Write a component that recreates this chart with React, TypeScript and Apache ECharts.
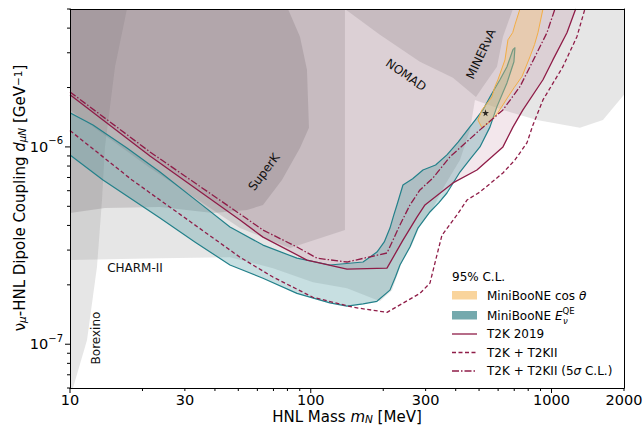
import React, { useEffect, useRef } from "react";
import * as echarts from "echarts";

const FONT = "DejaVu Sans";
const X_MIN = 10;
const X_MAX = 2000;
const Y_MIN = 6e-8;
const Y_MAX = 5e-6;

// ticks
const xMajorTicks = [10, 100, 1000];
const xMinorTicks = [20, 30, 40, 50, 60, 70, 80, 90, 200, 300, 400, 500, 600, 700, 800, 900, 2000];
const xTickLabels = [10, 30, 100, 300, 1000, 2000];
const yMajorTicks = [1e-7, 1e-6];
const yMinorTicks = [6e-8, 7e-8, 8e-8, 9e-8, 2e-7, 3e-7, 4e-7, 5e-7, 6e-7, 7e-7, 8e-7, 9e-7, 2e-6, 3e-6, 4e-6, 5e-6];
const yTickLabels = [1e-7, 1e-6];
const yTickExponents = ["−7", "−6"];

// exclusion regions: [mass MeV, coupling GeV^-1]
const charm2Region: [number, number][] = [
  [10, 2.67e-7], [23.65, 2.73e-7], [46.18, 2.76e-7], [69.66, 2.43e-7], [102.1, 2.06e-7],
  [141.4, 1.92e-7], [193.8, 1.65e-7], [217.4, 1.88e-7], [239.2, 2.61e-7], [263.2, 3.18e-7],
  [284.1, 3.97e-7], [318.6, 4.79e-7], [360.9, 6.41e-7], [416.6, 8.59e-7], [458.5, 1.22e-6],
  [480.9, 1.73e-6], [628.4, 1.54e-6], [869.8, 1.37e-6], [1312, 1.25e-6], [1635, 1.37e-6],
  [2000, 1.84e-6], [2000, 5e-6], [10, 5e-6],
];
const borexinoRegion: [number, number][] = [
  [10, 6e-8], [10.29, 6e-8], [11.77, 1.05e-7], [12.94, 2.46e-7], [13.58, 5.38e-7],
  [13.97, 1e-6], [15.38, 2.55e-6], [17.24, 5e-6], [10, 5e-6],
];
const superKRegion: [number, number][] = [
  [10, 5e-6], [80.42, 5e-6], [90.19, 3.62e-6], [96.43, 2.46e-6], [98.29, 1.25e-6],
  [90.19, 9.88e-7], [75.9, 6.8e-7], [63.32, 5.08e-7], [54.34, 4.79e-7], [39.26, 4.62e-7],
  [23.65, 4.96e-7], [13.97, 4.9e-7], [10, 4.62e-7],
];
const lowMassRegion: [number, number][] = [
  [10, 5e-6], [138.7, 5e-6], [138.7, 3.79e-7], [82, 3.07e-7], [50.82, 3.88e-7],
  [21.49, 7.82e-7], [10, 1.54e-6],
];
const nomadMinervaRegion: [number, number][] = [
  [138.7, 5e-6], [691.3, 5e-6], [628.4, 3.62e-6], [593.3, 2.55e-6], [518.9, 2.02e-6],
  [485.5, 1.79e-6], [389.6, 2.24e-6], [284.1, 2.7e-6], [193.8, 3.7e-6],
];

// T2K sensitivity curves
const t2k2019: [number, number][] = [
  [10, 1.84e-6], [21.49, 9.0e-7], [50.82, 4.26e-7], [63.32, 3.49e-7], [96.43, 2.67e-7],
  [141.4, 2.4e-7], [207.3, 2.43e-7], [241.5, 3.37e-7], [276.1, 4.41e-7], [298.1, 5.08e-7],
  [389.6, 6.57e-7], [490.0, 7.64e-7], [628.4, 1e-6], [691.3, 1.26e-6], [760.7, 1.54e-6],
  [921.4, 2.19e-6], [1013, 2.76e-6], [1159, 3.79e-6], [1260, 5e-6],
];
const t2kT2kII: [number, number][] = [
  [10, 1.21e-6], [18.09, 6.8e-7], [50.82, 2.76e-7], [69.66, 2.19e-7], [102.1, 1.73e-7],
  [149.7, 1.54e-7], [207.3, 1.45e-7], [284.1, 1.81e-7], [312.6, 2.04e-7], [334.2, 2.83e-7],
  [350.7, 3.57e-7], [404.8, 4.52e-7], [445.5, 5.38e-7], [504.3, 5.91e-7], [628.4, 7.38e-7],
  [704.7, 8.59e-7], [790.3, 1.048e-6], [837.1, 1.29e-6], [921.4, 1.73e-6], [1115, 2.55e-6],
  [1275, 3.62e-6], [1376, 5e-6],
];
const t2kT2kII5s: [number, number][] = [
  [10, 1.9e-6], [21.49, 9.43e-7], [50.82, 4.57e-7], [63.32, 3.79e-7], [87.64, 3.11e-7],
  [106.1, 2.73e-7], [141.4, 2.61e-7], [207.3, 2.9e-7], [234.7, 4.02e-7], [258.2, 5.08e-7],
  [284.1, 6.05e-7], [321.7, 6.96e-7], [378.5, 8.9e-7], [504.3, 1.22e-6], [628.4, 1.54e-6],
  [739.3, 2.02e-6], [853.3, 2.86e-6], [957.0, 3.79e-6], [1033, 5e-6],
];

// MiniBooNE E_QE allowed band (upper edge to tip, lower edge)
const eqeUpper: [number, number][] = [
  [10, 1.49e-6], [12.46, 1.29e-6], [17.24, 9.88e-7], [23.65, 7.46e-7], [35.2, 5.1e-7],
  [46.18, 3.93e-7], [63.32, 3.18e-7], [87.64, 2.73e-7], [120.1, 2.52e-7], [164.8, 2.61e-7],
  [188.3, 2.93e-7], [202.0, 3.3e-7], [213.3, 3.88e-7], [221.0, 4.5e-7], [228.0, 5.08e-7],
  [241.5, 6.41e-7], [265.0, 6.9e-7], [292.4, 7.64e-7], [330.0, 8.1e-7], [367.8, 9.11e-7],
  [410.0, 1.06e-6], [445.5, 1.21e-6], [480.0, 1.36e-6], [518.9, 1.54e-6], [554.8, 1.79e-6],
  [610.6, 2.19e-6], [653.0, 2.55e-6], [691.3, 3.11e-6], [704.7, 3.18e-6],
];
const eqeLower: [number, number][] = [
  [10, 9.11e-7], [13.71, 6.8e-7], [23.65, 4.36e-7], [33.0, 3.3e-7], [46.18, 2.52e-7],
  [63.32, 2.16e-7], [87.64, 1.81e-7], [120.1, 1.62e-7], [141.4, 1.56e-7], [165.0, 1.6e-7],
  [188.3, 1.65e-7], [213.3, 1.88e-7], [225.0, 2.2e-7], [234.7, 2.52e-7], [258.2, 3.11e-7],
  [278.7, 3.88e-7], [312.6, 4.68e-7], [340.0, 5.2e-7], [367.8, 5.84e-7], [416.6, 7.46e-7],
  [460.0, 8.7e-7], [504.3, 1e-6], [554.8, 1.26e-6], [593.3, 1.6e-6], [653.0, 2.11e-6],
  [698.0, 2.7e-6],
];
// MiniBooNE cos(theta) allowed band
const cosLeft: [number, number][] = [
  [739.3, 5e-6], [704.7, 4.16e-6], [690.0, 3.8e-6], [659.2, 3.49e-6], [640.6, 2.76e-6],
  [599.0, 2.19e-6], [580.0, 2.0e-6], [565.5, 1.79e-6], [514.0, 1.54e-6], [494.7, 1.37e-6],
  [514.0, 1.25e-6],
];
const cosRight: [number, number][] = [
  [554.8, 1.34e-6], [599.0, 1.49e-6], [659.2, 1.79e-6], [700.0, 2.0e-6], [753.5, 2.27e-6],
  [813.4, 2.86e-6], [850.0, 3.3e-6], [878.2, 3.79e-6], [921.4, 5e-6],
];
const bestFit: [number, number][] = [[532, 1.49e-6]];

const CRIMSON = "#8f1d48";
const TEAL = "#23808a";
const ORANGE = "#f2ad45";

function polySeries(name: string, pts: [number, number][], fill: string, z: number, stroke?: string, lw?: number) {
  return {
    type: "custom",
    name,
    coordinateSystem: "cartesian2d",
    clip: true,
    silent: true,
    z,
    data: pts,
    encode: { x: 0, y: 1 },
    renderItem: (params: any, api: any) => {
      if (params.dataIndex !== 0) return null;
      return {
        type: "polygon",
        shape: { points: pts.map((p) => api.coord(p)) },
        style: { fill, stroke: stroke || "none", lineWidth: lw || 0, lineJoin: "round" },
      };
    },
  };
}

function lineSeries(name: string, pts: [number, number][], type: any) {
  return {
    type: "line",
    name,
    data: pts,
    symbol: "none",
    showSymbol: false,
    silent: true,
    z: 8,
    lineStyle: { color: CRIMSON, width: 1.3, type },
  };
}

function xTicks(vals: number[], len: number) {
  return {
    type: "custom",
    clip: false,
    silent: true,
    z: 20,
    data: vals.map((v) => [v, Y_MIN]),
    renderItem: (params: any, api: any) => {
      const p = api.coord([api.value(0), Y_MIN]);
      return { type: "line", shape: { x1: p[0], y1: p[1], x2: p[0], y2: p[1] + len }, style: { stroke: "#000", lineWidth: 1 } };
    },
  };
}
function yTicks(vals: number[], len: number) {
  return {
    type: "custom",
    clip: false,
    silent: true,
    z: 20,
    data: vals.map((v) => [X_MIN, v]),
    renderItem: (params: any, api: any) => {
      const p = api.coord([X_MIN, api.value(1)]);
      return { type: "line", shape: { x1: p[0], y1: p[1], x2: p[0] - len, y2: p[1] }, style: { stroke: "#000", lineWidth: 1 } };
    },
  };
}

export default function App() {
  const ref = useRef<HTMLDivElement>(null);
  useEffect(() => {
    if (!ref.current) return;
    const chart = echarts.init(ref.current, null, { renderer: "svg" });
    const axisCommon = {
      type: "log",
      logBase: 10,
      axisLine: { show: true, onZero: false, lineStyle: { color: "#000", width: 1 } },
      axisTick: { show: false },
      axisLabel: { show: false },
      splitLine: { show: false },
      z: 10,
    };
    const cosBand = [...cosLeft, ...cosRight];
    const eqeBand = [...eqeUpper, ...[...eqeLower].reverse()];
    const t2kFill: [number, number][] = [...t2k2019, [10, Y_MAX]];
    const txt = (text: string, x: number, y: number, rotDeg: number) => ({
      type: "text",
      x,
      y,
      rotation: (rotDeg * Math.PI) / 180,
      z: 100,
      style: { text, fontSize: 12, fontFamily: FONT, fill: "#111", align: "center", verticalAlign: "middle" },
    });
    const richBase = {
      n: { fontSize: 15, fontFamily: FONT, lineHeight: 15, verticalAlign: "middle", fill: "#000" },
      i: { fontSize: 15, fontFamily: FONT, fontStyle: "italic", lineHeight: 15, verticalAlign: "middle", fill: "#000" },
      subi: { fontSize: 10.5, fontFamily: FONT, fontStyle: "italic", lineHeight: 9, verticalAlign: "bottom", fill: "#000" },
      sup: { fontSize: 10.5, fontFamily: FONT, lineHeight: 9, verticalAlign: "top", fill: "#000" },
    };
    const legRich = {
      n: { fontSize: 12, fontFamily: FONT, fill: "#000", lineHeight: 18, verticalAlign: "middle" },
      i: { fontSize: 12, fontFamily: FONT, fontStyle: "italic", fill: "#000", lineHeight: 18, verticalAlign: "middle" },
      sup: { fontSize: 8.5, fontFamily: FONT, fill: "#000", lineHeight: 8, verticalAlign: "top" },
    };
    chart.setOption({
      animation: false,
      backgroundColor: "#fff",
      grid: { left: 70, right: 20, top: 9, bottom: 38, outerBoundsMode: "none", show: false },
      xAxis: [
        { ...axisCommon, min: X_MIN, max: X_MAX, position: "bottom" },
        { ...axisCommon, min: X_MIN, max: X_MAX, position: "top" },
      ],
      yAxis: [
        { ...axisCommon, min: Y_MIN, max: Y_MAX, position: "left" },
        { ...axisCommon, min: Y_MIN, max: Y_MAX, position: "right" },
      ],
      series: [
        polySeries("CHARM-II", charm2Region, "rgba(128,128,128,0.2)", 1),
        polySeries("Borexino", borexinoRegion, "rgba(128,128,128,0.2)", 2),
        polySeries("T2K 2019 region", t2kFill, "rgba(150,40,80,0.11)", 3),
        polySeries("low mass", lowMassRegion, "rgba(100,90,95,0.175)", 4),
        polySeries("NOMAD/MINERvA", nomadMinervaRegion, "rgba(100,90,95,0.175)", 4),
        polySeries("SuperK", superKRegion, "rgba(100,90,95,0.21)", 5),
        polySeries("MiniBooNE E_QE", eqeBand, "rgba(70,150,155,0.3)", 6, TEAL, 1.2),
        polySeries("MiniBooNE cos", cosBand, "rgba(250,195,115,0.38)", 7, ORANGE, 1),
        lineSeries("T2K 2019", t2k2019, "solid"),
        lineSeries("T2K + T2KII", t2kT2kII, [4, 2.5]),
        lineSeries("T2K + T2KII (5σ C.L.)", t2kT2kII5s, [7, 2, 1.5, 2]),
        {
          type: "scatter",
          data: bestFit,
          symbol: "path://M50,0 L61,35 L98,35 L68,57 L79,91 L50,70 L21,91 L32,57 L2,35 L39,35 Z",
          symbolSize: 7,
          itemStyle: { color: "#000" },
          silent: true,
          z: 9,
        },
        xTicks(xMajorTicks, 5),
        xTicks(xMinorTicks, 3),
        yTicks(yMajorTicks, 5),
        yTicks(yMinorTicks, 3),
        {
          type: "custom",
          clip: false,
          silent: true,
          z: 20,
          data: xTickLabels.map((v) => [v, Y_MIN]),
          renderItem: (params: any, api: any) => {
            const v = api.value(0);
            const p = api.coord([v, Y_MIN]);
            return {
              type: "text",
              x: p[0],
              y: p[1] + 4,
              style: { text: String(v), fontSize: 14.5, lineHeight: 15, fontFamily: FONT, fill: "#000", align: "center", verticalAlign: "top" },
            };
          },
        },
        {
          type: "custom",
          clip: false,
          silent: true,
          z: 20,
          data: yTickLabels.map((v) => [X_MIN, v]),
          renderItem: (params: any, api: any) => {
            const p = api.coord([X_MIN, api.value(1)]);
            return {
              type: "text",
              x: p[0] - 7,
              y: p[1],
              style: {
                text: "{b|10}{s|" + yTickExponents[params.dataIndex] + "}",
                align: "right",
                verticalAlign: "middle",
                rich: {
                  b: { fontSize: 14.5, fontFamily: FONT, fill: "#000", lineHeight: 22, verticalAlign: "middle" },
                  s: { fontSize: 10, fontFamily: FONT, fill: "#000", lineHeight: 10, verticalAlign: "top" },
                },
              },
            };
          },
        },
      ],
      graphic: [
        txt("SuperK", 264, 172, 53),
        txt("NOMAD", 406, 75, -35),
        txt("MINERνA", 481, 54, 65),
        txt("CHARM-II", 135, 268, 0),
        txt("Borexino", 96, 338, 90),
        {
          type: "text",
          x: 347,
          y: 417,
          z: 100,
          style: {
            text: "{n|HNL Mass }{i|m}{subi|N}{n| [MeV]}",
            align: "center",
            verticalAlign: "middle",
            rich: richBase,
          },
        },
        {
          type: "text",
          x: 20,
          y: 198,
          rotation: Math.PI / 2,
          z: 100,
          style: {
            text: "{n|ν}{subi|μ}{n|-HNL Dipole Coupling }{i|d}{subi|μN}{n| [GeV}{sup|−1}{n|]}",
            align: "center",
            verticalAlign: "middle",
            rich: richBase,
          },
        },
        // legend
        { type: "text", x: 452, y: 277, z: 100, style: { text: "95% C.L.", fontSize: 12, fontFamily: FONT, fill: "#000", verticalAlign: "middle" } },
        { type: "rect", z: 100, shape: { x: 452, y: 291, width: 25, height: 8.5 }, style: { fill: "#f9d49c" } },
        { type: "text", x: 487, y: 296, z: 100, style: { text: "{n|MiniBooNE cos }{i|θ}", verticalAlign: "middle", rich: legRich } },
        { type: "rect", z: 100, shape: { x: 452, y: 311, width: 25, height: 8.5 }, style: { fill: "#74a9ad" } },
        { type: "text", x: 487, y: 315.5, z: 100, style: { text: "{n|MiniBooNE }{i|E}{sup|QE}", verticalAlign: "middle", rich: legRich } },
        { type: "text", x: 563, y: 321, z: 100, style: { text: "ν", fontSize: 8.5, fontFamily: FONT, fontStyle: "italic", fill: "#000", verticalAlign: "middle" } },
        { type: "line", z: 100, shape: { x1: 452, y1: 334, x2: 477, y2: 334 }, style: { stroke: CRIMSON, lineWidth: 1.3 } },
        { type: "text", x: 487, y: 334, z: 100, style: { text: "T2K 2019", fontSize: 12, fontFamily: FONT, fill: "#000", verticalAlign: "middle" } },
        { type: "line", z: 100, shape: { x1: 452, y1: 352.5, x2: 477, y2: 352.5 }, style: { stroke: CRIMSON, lineWidth: 1.3, lineDash: [4, 2.5] } },
        { type: "text", x: 487, y: 352.5, z: 100, style: { text: "T2K + T2KII", fontSize: 12, fontFamily: FONT, fill: "#000", verticalAlign: "middle" } },
        { type: "line", z: 100, shape: { x1: 452, y1: 371, x2: 477, y2: 371 }, style: { stroke: CRIMSON, lineWidth: 1.3, lineDash: [7, 2, 1.5, 2] } },
        { type: "text", x: 487, y: 371, z: 100, style: { text: "{n|T2K + T2KII (5}{i|σ}{n| C.L.)}", verticalAlign: "middle", rich: legRich } },
      ],
    });
    return () => chart.dispose();
  }, []);
  return <div ref={ref} style={{ position: "absolute", left: 0, top: 0, width: 644, height: 426 }} />;
}
